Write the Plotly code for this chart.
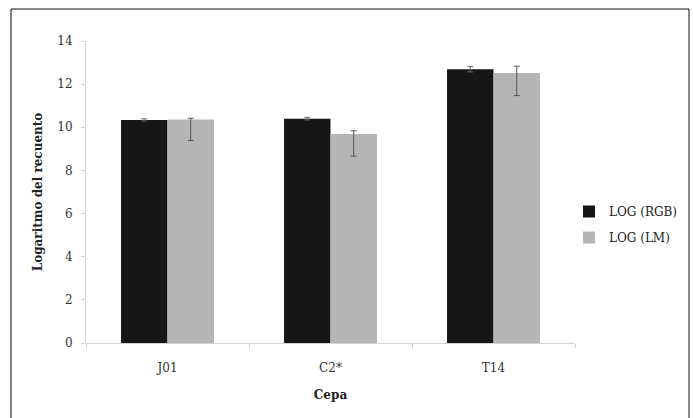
import plotly.graph_objects as go

categories = ["J01", "C2*", "T14"]
rgb_values = [10.34, 10.40, 12.69]
rgb_err = [0.05, 0.06, 0.12]
lm_values = [10.36, 9.69, 12.52]
lm_err_plus = [0.06, 0.15, 0.31]
lm_err_minus = [0.97, 1.03, 1.05]
y_ticks = [0, 2, 4, 6, 8, 10, 12, 14]

FONT = "DejaVu Serif"
W, H = 693, 418
L, R, T, B = 86, 118, 41, 75
pw, ph = W - L - R, H - T - B


def px(x):
    return (x - L) / pw


def py(y):
    return (H - B - y) / ph


fig = go.Figure()
fig.add_trace(go.Bar(
    x=categories, y=rgb_values, name="LOG (RGB)",
    marker=dict(color="#161616", line=dict(width=0)),
    error_y=dict(type="data", array=rgb_err, color="#666666", thickness=1, width=3),
    legendgroup="a",
))
fig.add_trace(go.Bar(
    x=categories, y=lm_values, name="LOG (LM)",
    marker=dict(color="#b5b5b5", line=dict(width=0)),
    error_y=dict(type="data", symmetric=False, array=lm_err_plus, arrayminus=lm_err_minus,
                 color="#555555", thickness=1, width=3),
    legendgroup="b",
))

fig.update_layout(
    width=W, height=H,
    margin=dict(l=L, r=R, t=T, b=B, autoexpand=False),
    paper_bgcolor="white", plot_bgcolor="white",
    barmode="group", bargap=0.43, bargroupgap=0,
    font=dict(family=FONT, size=12, color="#333333"),
    showlegend=True,
    legend=dict(x=px(569), y=py(197), xanchor="left", yanchor="top",
                font=dict(family=FONT, size=12, color="#222222"),
                traceorder="grouped", tracegroupgap=7, itemwidth=30,
                bgcolor="rgba(0,0,0,0)"),
    xaxis=dict(
        showline=True, linecolor="#d4d4d4", linewidth=1,
        ticks="outside", tickson="boundaries", ticklen=4, tickcolor="#d4d4d4",
        showgrid=False, zeroline=False,
        tickfont=dict(family=FONT, size=12, color="#333333"),
        ticklabelstandoff=14,
        title=dict(text="<b>Cepa</b>", font=dict(family=FONT, size=12, color="#222222"), standoff=16),
    ),
    yaxis=dict(
        range=[0, 14], tickvals=y_ticks,
        showline=True, linecolor="#d4d4d4", linewidth=1,
        ticks="outside", ticklen=4, tickcolor="#d4d4d4",
        showgrid=False, zeroline=False,
        tickfont=dict(family=FONT, size=12, color="#333333"),
        ticklabelstandoff=6,
        title=dict(text="<b>Logaritmo del recuento</b>", font=dict(family=FONT, size=12, color="#222222"), standoff=12),
    ),
    shapes=[
        dict(type="line", xref="paper", yref="paper", x0=px(11), x1=px(11), y0=py(9), y1=py(420),
             line=dict(color="#808080", width=2)),
        dict(type="line", xref="paper", yref="paper", x0=px(11), x1=px(689), y0=py(9), y1=py(9),
             line=dict(color="#111111", width=1)),
        dict(type="line", xref="paper", yref="paper", x0=px(689), x1=px(689), y0=py(9), y1=py(420),
             line=dict(color="#111111", width=1)),
    ],
)

fig.write_html("out.html", config={"displayModeBar": False},
               post_script="document.body.style.margin='0px';")
